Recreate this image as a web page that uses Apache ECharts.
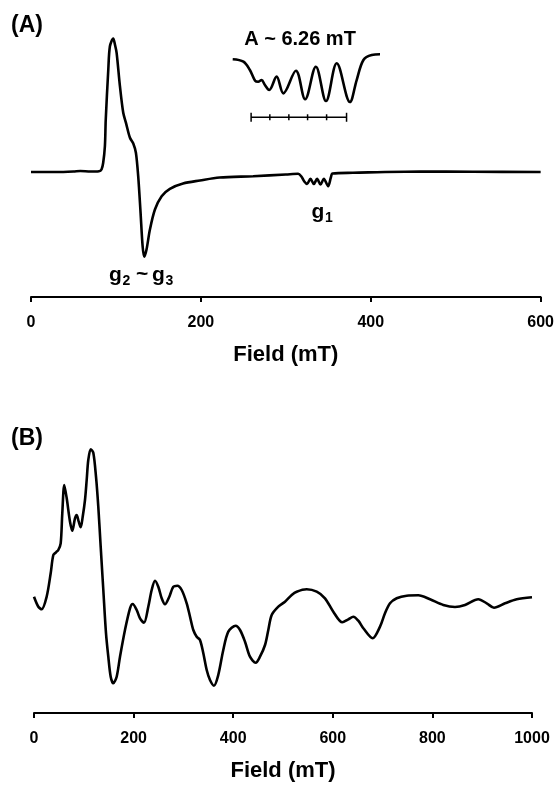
<!DOCTYPE html>
<html><head><meta charset="utf-8">
<script src="https://cdn.jsdelivr.net/npm/echarts@6/dist/echarts.min.js"></script>
<style>html,body{margin:0;padding:0;background:#fff}#c{width:557px;height:785px}</style>
</head><body><div id="c"></div>
<script>
// Panel (A): field (mT) and EPR signal (arbitrary units)
const fieldA = [0,30,50,58,70,80,83,85,87,88,91,92.9,96.8,98.8,100.8,104.7,108.6,111.8,116.5,120.4,123.5,126.2,129,131.4,133.3,136,140,145.9,153.8,163.5,179,198.8,222,261.5,300,314.5,318.5,322,325,329,333,336.8,340.8,344.7,349.8,353,355,379,457.6,520,600];
const signalA = [0,0,0.5,1,0.5,0.8,2.5,9.2,25.8,52.5,102.5,125.8,133.5,127.5,119.2,85.8,59.2,49.2,34.2,28.5,19.2,-4.2,-40.8,-74.2,-84.8,-77.5,-57.5,-37.5,-24.2,-16.8,-11.5,-8.5,-5.5,-4.2,-2.5,-1.8,-4.8,-9.8,-12,-6.8,-12,-6.8,-12.5,-6.8,-14.2,-5.5,-1.5,-0.8,0.5,0.2,0];
const ticksA = [0,200,400,600];

// Inset: magnified g1 region with hyperfine markers (A ~ 6.26 mT)
const insetField = [312,315.5,317.6,319.3,320.3,321.4,322.5,323.9,326.3,328.5,332.6,335.6,339.1,342.4,345.9,350.2,352.4,354.6,357.3,360];
const insetSignal = [86.7,83.3,71.4,56.1,54.7,57.1,50,42.9,61.9,38.1,70.4,29.6,76.1,27.1,81,25.7,57.1,85.7,92.9,93.9];
const insetMarks = [318.0,324.1,330.3,336.4,342.6,349.1];
const insetMarkLevel = 3.9;

// Panel (B)
const fieldB = [0,8.7,15.4,25.4,33.5,38.8,44.2,48.8,53.6,56.8,60.8,65.7,72.3,76.9,82.3,85.7,89.8,93.8,97.8,102.4,105.8,109,113.9,119.1,124.5,129.1,133.9,139.2,144.6,149.2,154,159.2,166,172.7,182.7,192.8,198.2,206.2,212.9,220.9,229.5,236.3,243,249.6,256.4,263,271.7,279.7,287.8,296.6,306.6,313.3,319.9,326.7,333.3,340,346.8,353.4,361.4,370,380.1,390.2,405,413.7,423.7,433.7,445.2,453.8,463.9,470.5,477.3,490.6,504,517.5,527.5,547.6,567.7,584.3,601,619.1,631.1,641.2,651.2,661.3,680,694.8,704.8,714.9,728.3,748.4,771.7,795.2,821.9,845.4,865.5,892.2,909,923.7,945.8,969.3,1000];
const signalB = [1.3,-8.7,-11.3,1.3,24.7,43,45.7,48,54.7,84.7,113,99.7,76.3,67.3,79.7,83,76.3,70.7,81.3,98,118,138,148.7,145.3,121.3,91.3,51.3,8,-35.3,-58.7,-78.7,-85.3,-78.7,-58.7,-32,-10.3,-6,-12,-20.3,-24.7,-8.7,8,17.3,11.3,-0.3,-6.3,1.3,11.3,12.3,8,-5.3,-18.7,-32,-38.7,-42,-55.3,-72,-82,-87.7,-77,-52,-33.7,-27.7,-32,-43.7,-58.7,-64.7,-58.7,-47,-32,-17,-8.7,-3.7,3,6.3,8.7,6.3,-0.3,-13.7,-24.3,-21.3,-18.7,-22.7,-30.3,-40.3,-28.7,-15.3,-5.3,-0.3,2.3,2.7,-1.3,-7,-9,-7,-1.3,-5.3,-9.7,-5.3,-1.3,0.7];
const ticksB = [0,200,400,600,800,1000];

const FONT = "'Liberation Sans', Arial, sans-serif";
const LW = 2.6;
const zip = (xs, ys) => xs.map((x, i) => [x, ys[i]]);

function fieldAxis(grid, ticks) {
  return {
    gridIndex: grid, type: 'value', position: 'bottom',
    min: ticks[0], max: ticks[ticks.length - 1], interval: ticks[1] - ticks[0],
    axisLine: {show: true, onZero: false, lineStyle: {color: '#000', width: 2}},
    axisTick: {show: true, inside: false, length: 5, lineStyle: {color: '#000', width: 2}},
    axisLabel: {show: true, color: '#000', fontFamily: FONT, fontWeight: 'bold', fontSize: 16, margin: 18,
                showMinLabel: true, showMaxLabel: true, formatter: v => String(v)},
    splitLine: {show: false},
    name: 'Field (mT)', nameLocation: 'middle', nameGap: 47,
    nameTextStyle: {color: '#000', fontFamily: FONT, fontWeight: 'bold', fontSize: 22}
  };
}

const txt = (x, y, text, size, align) => ({
  type: 'text', x: x, y: y,
  style: {text: text, fill: '#000', font: 'bold ' + size + 'px ' + FONT, align: align || 'center', verticalAlign: 'middle'}
});

const chart = echarts.init(document.getElementById('c'), null, {renderer: 'canvas'});
chart.setOption({
  animation: false,
  backgroundColor: '#fff',
  grid: [
    {left: 31, right: 16, top: 30, height: 267},
    {left: 232.7, top: 50, width: 147.3, height: 70},
    {left: 34, right: 25, top: 440, height: 273}
  ],
  xAxis: [
    fieldAxis(0, ticksA),
    {gridIndex: 1, type: 'value', min: 312, max: 360, show: false},
    fieldAxis(2, ticksB)
  ],
  yAxis: [
    {gridIndex: 0, type: 'value', min: -125, max: 142, show: false},
    {gridIndex: 1, type: 'value', min: 0, max: 100, show: false},
    {gridIndex: 2, type: 'value', min: -115, max: 158, show: false}
  ],
  series: [
    {type: 'line', xAxisIndex: 0, yAxisIndex: 0, data: zip(fieldA, signalA), showSymbol: false, smooth: 0.3,
     lineStyle: {color: '#000', width: LW}},
    {type: 'line', xAxisIndex: 1, yAxisIndex: 1, data: zip(insetField, insetSignal), showSymbol: false, smooth: 0.35,
     lineStyle: {color: '#000', width: LW}},
    {type: 'line', xAxisIndex: 1, yAxisIndex: 1, data: insetMarks.map(x => [x, insetMarkLevel]),
     symbol: 'rect', showSymbol: true,
     symbolSize: (v, p) => (p.dataIndex === 0 || p.dataIndex === insetMarks.length - 1) ? [1.5, 9] : [1.5, 6],
     itemStyle: {color: '#000'}, lineStyle: {color: '#000', width: 1.3}},
    {type: 'line', xAxisIndex: 2, yAxisIndex: 2, data: zip(fieldB, signalB), showSymbol: false, smooth: 0.3,
     lineStyle: {color: '#000', width: LW}}
  ],
  graphic: [
    txt(27, 26, '(A)', 23),
    txt(27, 439, '(B)', 23),
    txt(300, 39, 'A ~ 6.26 mT', 20),
    txt(109, 275.5, 'g', 21, 'left'),
    txt(122.5, 281, '2', 14, 'left'),
    txt(136, 274.5, '~', 21, 'left'),
    txt(152, 275.5, 'g', 21, 'left'),
    txt(165.5, 281, '3', 14, 'left'),
    txt(311.5, 212.7, 'g', 21, 'left'),
    txt(325, 218, '1', 14, 'left')
  ]
});
</script></body></html>
